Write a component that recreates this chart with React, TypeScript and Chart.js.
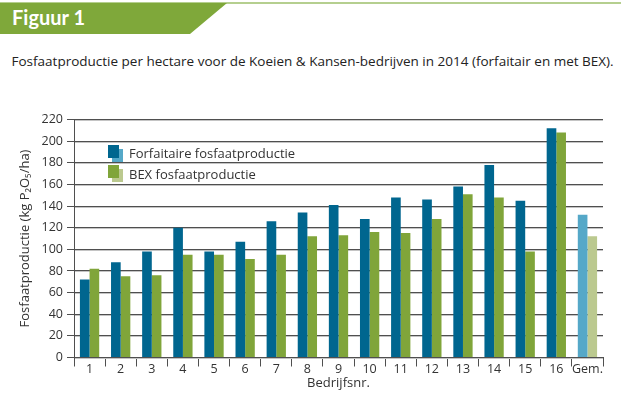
import React, { useEffect, useRef } from 'react';
import { Chart, registerables } from 'chart.js';

Chart.register(...registerables);

const categories = ['1', '2', '3', '4', '5', '6', '7', '8', '9', '10', '11', '12', '13', '14', '15', '16', 'Gem.'];
const forfaitair = [72, 88, 98, 120, 98, 107, 126, 134, 141, 128, 148, 146, 158, 178, 145, 212, 132];
const bex = [82, 75, 76, 95, 95, 91, 95, 112, 113, 116, 115, 128, 151, 148, 98, 208, 112];
const yMin = 0;
const yMax = 220;
const yStep = 20;

const BLUE = '#00668f';
const BLUE_LIGHT = '#55a8c8';
const GREEN = '#80a53a';
const GREEN_LIGHT = '#bbc98f';
const GRID = '#4f4f4f';
const TEXT = '#333333';
const FONT = '"Open Sans", "DejaVu Sans", sans-serif';

const gridShadow = {
  id: 'gridShadow',
  beforeDatasetsDraw(chart: any) {
    const { ctx, chartArea, scales } = chart;
    const y = scales.y;
    ctx.save();
    ctx.strokeStyle = '#c4c4c4';
    ctx.lineWidth = 1;
    y.ticks.forEach((_t: any, i: number) => {
      const py = Math.round(y.getPixelForTick(i) - 0.5) + 1.5;
      ctx.beginPath();
      ctx.moveTo(chartArea.left + 1, py);
      ctx.lineTo(chartArea.right, py);
      ctx.stroke();
    });
    ctx.restore();
  },
};

export default function App() {
  const canvasRef = useRef<HTMLCanvasElement | null>(null);

  useEffect(() => {
    if (!canvasRef.current) return;
    const last = categories.length - 1;
    const chart = new Chart(canvasRef.current, {
      type: 'bar',
      data: {
        labels: categories,
        datasets: [
          {
            label: 'Forfaitaire fosfaatproductie',
            data: forfaitair,
            backgroundColor: categories.map((_, i) => (i === last ? BLUE_LIGHT : BLUE)),
            categoryPercentage: 0.62,
            barPercentage: 1.0,
          },
          {
            label: 'BEX fosfaatproductie',
            data: bex,
            backgroundColor: categories.map((_, i) => (i === last ? GREEN_LIGHT : GREEN)),
            categoryPercentage: 0.62,
            barPercentage: 1.0,
          },
        ],
      },
      options: {
        responsive: false,
        animation: false,
        devicePixelRatio: 1,
        layout: { padding: { top: 19.5, right: 18, left: 0, bottom: 0 } },
        plugins: {
          legend: { display: false },
          tooltip: { enabled: false },
          title: { display: false },
        },
        scales: {
          x: {
            offset: true,
            grid: {
              display: true,
              offset: true,
              drawOnChartArea: false,
              drawTicks: true,
              tickLength: 9,
              color: GRID,
              lineWidth: 1,
            },
            border: { display: true, color: GRID, width: 1 },
            ticks: {
              color: TEXT,
              font: { family: FONT, size: 12.5 },
              padding: -5,
              maxRotation: 0,
              autoSkip: false,
            },
            title: {
              display: true,
              text: 'Bedrijfsnr.',
              color: TEXT,
              font: { family: FONT, size: 13 },
              padding: { top: 0, bottom: 9 },
            },
            afterFit(scale: any) {
              scale.height = 42.5;
            },
          },
          y: {
            min: yMin,
            max: yMax,
            ticks: {
              stepSize: yStep,
              color: TEXT,
              font: { family: FONT, size: 12.5 },
              padding: 4,
            },
            grid: {
              color: GRID,
              lineWidth: 1,
              drawTicks: true,
              tickLength: 7,
            },
            border: { display: true, color: GRID, width: 1 },
            title: {
              display: true,
              text: 'Fosfaatproductie (kg P₂O₅/ha)',
              color: TEXT,
              font: { family: FONT, size: 13 },
              padding: { top: 17, bottom: 0 },
            },
            afterFit(scale: any) {
              scale.width = 74;
            },
          },
        },
      },
      plugins: [gridShadow],
    });
    return () => chart.destroy();
  }, []);

  const sq = (left: number, top: number, color: string): React.CSSProperties => ({
    position: 'absolute',
    left,
    top,
    width: 11,
    height: 13,
    background: color,
  });

  return (
    <div
      style={{
        position: 'absolute',
        left: 0,
        top: 0,
        width: 621,
        height: 420,
        background: '#ffffff',
        overflow: 'hidden',
        fontFamily: FONT,
      }}
    >
      <div style={{ position: 'absolute', left: 0, top: 2, width: 621, height: 2, background: '#b5cf8f' }} />
      <div
        style={{
          position: 'absolute',
          left: 0,
          top: 3,
          width: 227,
          height: 31,
          background: '#7fa83a',
          clipPath: 'polygon(0 0, 227px 0, 190px 100%, 0 100%)',
        }}
      />
      <div
        style={{
          position: 'absolute',
          left: 12,
          top: 5.3,
          lineHeight: '24px',
          fontFamily: 'Lato, "Open Sans", sans-serif',
          fontWeight: 700,
          fontSize: 20,
          color: '#ffffff',
          whiteSpace: 'nowrap',
        }}
      >
        Figuur 1
      </div>
      <div
        style={{
          position: 'absolute',
          left: 11.5,
          top: 51.8,
          lineHeight: '18px',
          fontSize: 13.5,
          color: '#222222',
          whiteSpace: 'nowrap',
        }}
      >
        Fosfaatproductie per hectare voor de Koeien &amp; Kansen-bedrijven in 2014 (forfaitair en met BEX).
      </div>
      <div style={{ position: 'absolute', left: 0, top: 100, width: 621, height: 300 }}>
        <canvas ref={canvasRef} width={621} height={300} style={{ display: 'block', width: 621, height: 300 }} />
      </div>
      <div style={sq(112, 148.5, BLUE_LIGHT)} />
      <div style={sq(108, 145, BLUE)} />
      <div style={sq(112, 168.5, GREEN_LIGHT)} />
      <div style={sq(108, 165, GREEN)} />
      <div
        style={{
          position: 'absolute',
          left: 129,
          top: 143.6,
          lineHeight: '18px',
          fontSize: 13,
          color: TEXT,
          whiteSpace: 'nowrap',
        }}
      >
        Forfaitaire fosfaatproductie
      </div>
      <div
        style={{
          position: 'absolute',
          left: 129,
          top: 164.6,
          lineHeight: '18px',
          fontSize: 13,
          color: TEXT,
          whiteSpace: 'nowrap',
        }}
      >
        BEX fosfaatproductie
      </div>
    </div>
  );
}
